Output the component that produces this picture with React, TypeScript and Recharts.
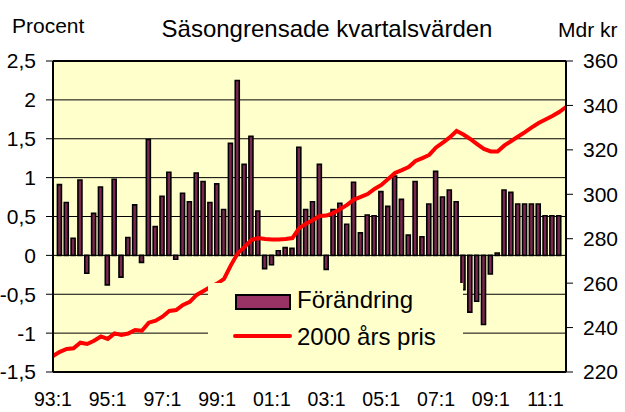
import { ComposedChart, Bar, Line, XAxis, YAxis, CartesianGrid, Legend, ReferenceLine } from 'recharts';

const years = ['93', '94', '95', '96', '97', '98', '99', '00', '01', '02', '03', '04', '05', '06', '07', '08', '09', '10', '11'];
const quarters = years.flatMap((y) => [1, 2, 3, 4].map((q) => `${y}:${q}`));
const xTicks = [0, 8, 16, 24, 32, 40, 48, 56, 64, 72];
const leftTicks = [-1.5, -1, -0.5, 0, 0.5, 1, 1.5, 2, 2.5];
const rightTicks = [220, 240, 260, 280, 300, 320, 340, 360];

// Förändring, procent (kvartal mot kvartal)
const change = [
  null, 0.91, 0.68, 0.22, 0.97, -0.23, 0.54, 0.88, -0.38, 0.98,
  -0.28, 0.23, 0.65, -0.09, 1.49, 0.37, 0.76, 1.07, -0.05, 0.8,
  0.69, 1.06, 0.95, 0.68, 0.92, 0.59, 1.44, 2.25, 1.17, 1.53,
  0.57, -0.17, -0.12, 0.06, 0.1, 0.09, 1.39, 0.59, 0.69, 1.17,
  -0.18, 0.59, 0.67, 0.4, 0.94, 0.29, 0.52, 0.51, 0.82, 0.63,
  1.02, 0.72, 0.26, 0.95, 0.24, 0.66, 1.08, 0.75, 0.84, 0.69,
  -0.44, -0.73, -0.59, -0.89, -0.24, 0.03, 0.84, 0.81, 0.66, 0.66,
  0.66, 0.66, 0.51, 0.51, 0.51, null,
];

// 2000 års pris, Mdr kr
const price = [
  227.2, 229.1, 230.4, 230.7, 233.2, 232.6, 234.1, 236.0, 234.9, 237.4,
  236.7, 237.3, 238.9, 238.6, 242.2, 243.1, 244.9, 247.5, 247.9, 250.2,
  251.6, 254.7, 256.5, 258.3, 259.8, 261.9, 268.0, 273.4, 276.3, 279.4,
  280.3, 279.9, 279.6, 279.6, 279.9, 280.3, 284.8, 286.8, 288.4, 290.2,
  290.4, 291.6, 293.4, 295.2, 297.6, 298.8, 300.1, 302.4, 304.2, 306.9,
  309.6, 310.9, 312.3, 315.0, 316.3, 317.7, 321.1, 323.3, 325.6, 328.5,
  326.9, 324.9, 322.6, 320.4, 319.3, 319.3, 322.0, 324.0, 326.0, 328.0,
  330.1, 332.1, 333.7, 335.2, 337.0, 339.3,
];

const data = quarters.map((q, i) => ({ idx: i, label: q, change: change[i], price: price[i] }));

const font = 'Liberation Sans, Arial, Helvetica, sans-serif';

function LegendBox() {
  return (
    <div style={{ position: 'relative', width: 255, height: 86, background: '#FFFFCC', fontFamily: font, fontSize: 24, color: '#000' }}>
      <div style={{ position: 'absolute', left: 27, top: 11, width: 52, height: 12, background: '#993366', border: '2px solid #000' }} />
      <div style={{ position: 'absolute', left: 89, top: 3, lineHeight: '28px', whiteSpace: 'nowrap' }}>Förändring</div>
      <div style={{ position: 'absolute', left: 25, top: 51, width: 59, height: 4, background: '#FF0000', borderRadius: 2 }} />
      <div style={{ position: 'absolute', left: 89, top: 40, lineHeight: '28px', whiteSpace: 'nowrap' }}>2000 års pris</div>
    </div>
  );
}

export default function App() {
  return (
    <div style={{ position: 'absolute', left: 0, top: 0, width: 625, height: 412, background: '#fff', fontFamily: font }}>
      <div style={{ position: 'absolute', left: 12, top: 15, fontSize: 21, lineHeight: 1, whiteSpace: 'nowrap' }}>Procent</div>
      <div style={{ position: 'absolute', left: 327, top: 17, fontSize: 24, lineHeight: 1, whiteSpace: 'nowrap', transform: 'translateX(-50%)' }}>
        Säsongrensade kvartalsvärden
      </div>
      <div style={{ position: 'absolute', left: 558, top: 19, fontSize: 21, lineHeight: 1, whiteSpace: 'nowrap' }}>Mdr kr</div>

      <ComposedChart width={625} height={412} data={data} margin={{ top: 61, right: 0, bottom: 0, left: 0 }}>
        <CartesianGrid yAxisId="left" vertical={false} stroke="#000" strokeWidth={1} fill="#FFFFCC" fillOpacity={1} />
        <XAxis
          dataKey="idx"
          type="number"
          domain={[0, 75]}
          ticks={xTicks}
          interval={0}
          tickFormatter={(v) => quarters[v]}
          tickLine={false}
          axisLine={{ stroke: '#000', strokeWidth: 2 }}
          tick={{ fill: '#000', fontSize: 19.5, fontFamily: font }}
          tickMargin={14}
          height={40}
        />
        <YAxis
          yAxisId="left"
          domain={[-1.5, 2.5]}
          ticks={leftTicks}
          interval={0}
          tickFormatter={(v) => String(v).replace('.', ',')}
          width={53}
          tickSize={7}
          tickMargin={10}
          tickLine={{ stroke: '#000' }}
          axisLine={{ stroke: '#000', strokeWidth: 2 }}
          tick={{ fill: '#000', fontSize: 21, fontFamily: font }}
        />
        <YAxis
          yAxisId="right"
          orientation="right"
          domain={[220, 360]}
          ticks={rightTicks}
          interval={0}
          width={59}
          tickSize={7}
          tickMargin={10}
          tickLine={{ stroke: '#000' }}
          axisLine={{ stroke: '#000', strokeWidth: 2 }}
          tick={{ fill: '#000', fontSize: 21, fontFamily: font, textAnchor: 'start' }}
        />
        <ReferenceLine yAxisId="left" y={2.5} stroke="#000" strokeWidth={2} />
        <Bar
          yAxisId="left"
          dataKey="change"
          name="Förändring"
          barSize={4}
          fill="#7a2850"
          stroke="#000"
          strokeWidth={1.6}
          isAnimationActive={false}
        />
        <Line
          yAxisId="right"
          dataKey="price"
          name="2000 års pris"
          type="linear"
          stroke="#FF0000"
          strokeWidth={4}
          dot={false}
          isAnimationActive={false}
        />
        <Legend
          layout="vertical"
          align="center"
          verticalAlign="middle"
          content={() => <LegendBox />}
          wrapperStyle={{ left: 208, top: 283, width: 255, height: 86, margin: 0 }}
        />
      </ComposedChart>
    </div>
  );
}
